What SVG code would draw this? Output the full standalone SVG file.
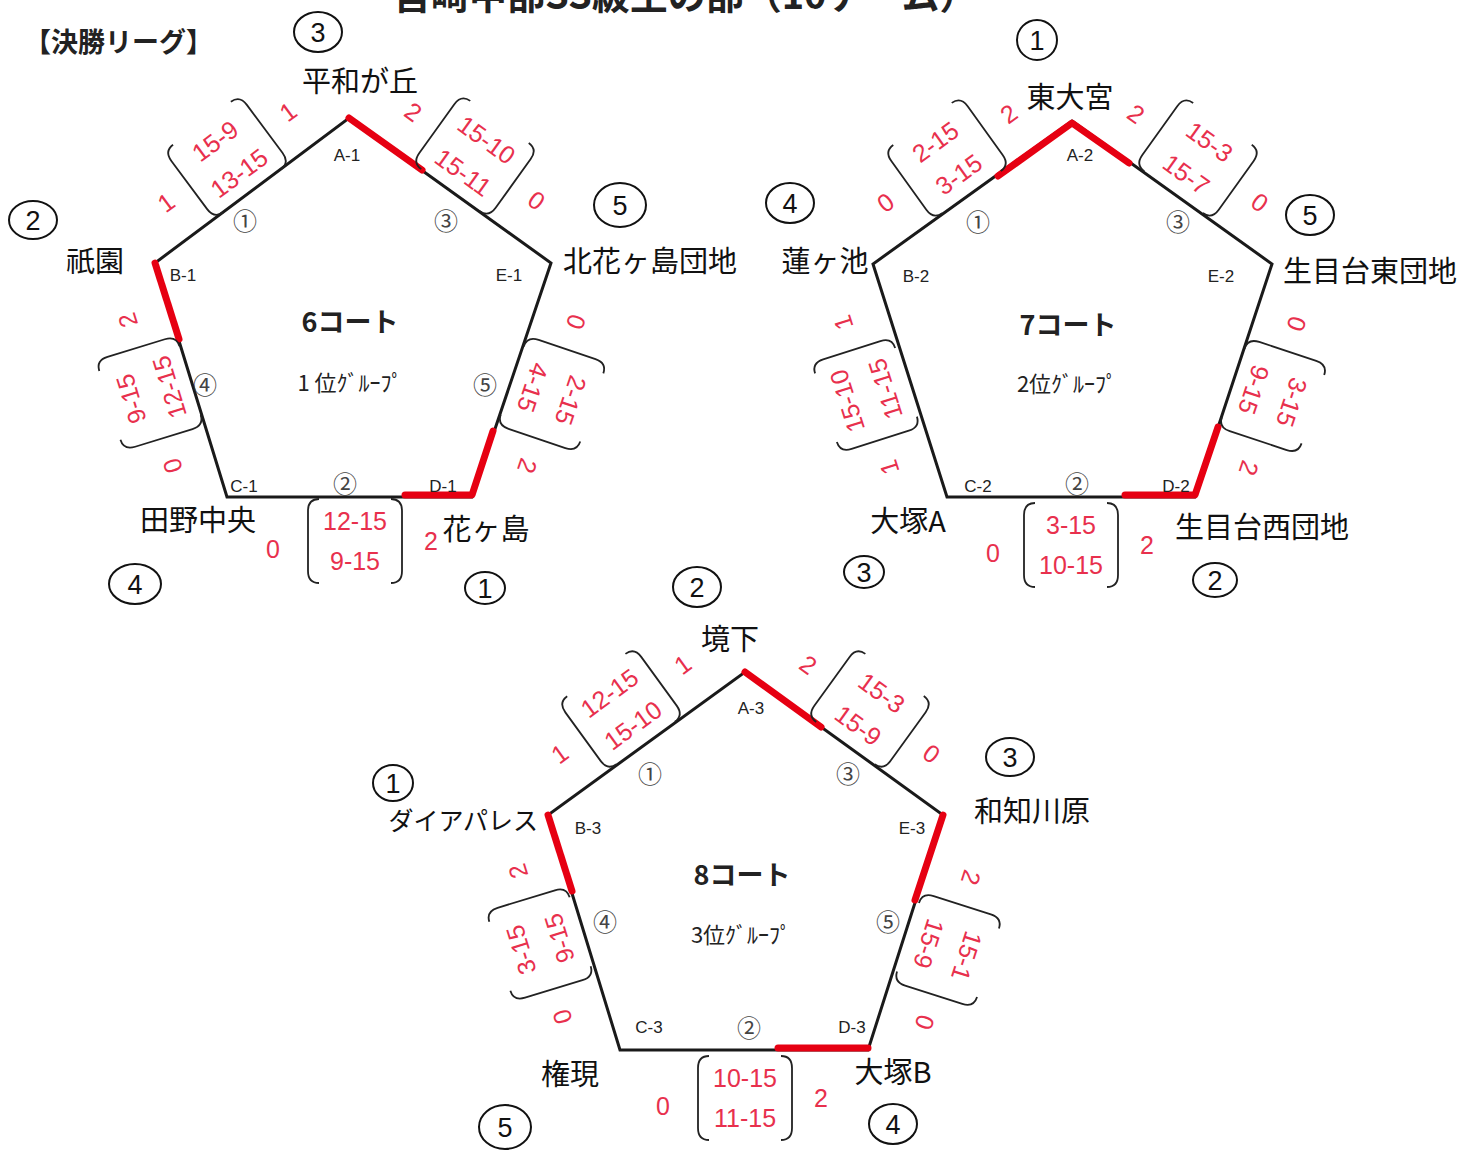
<svg xmlns="http://www.w3.org/2000/svg" width="1481" height="1154" viewBox="0 0 1481 1154">
<style>
.pent{fill:none;stroke:#1a1a1a;stroke-width:3;stroke-linejoin:miter}
.hl{fill:none;stroke:#e60012;stroke-width:7;stroke-linecap:round;stroke-linejoin:round}
.vl{font-family:"Liberation Sans",Arial,sans-serif;font-size:17px;fill:#222;text-anchor:middle}
.cn{font-family:"Noto Sans CJK JP","DejaVu Sans",sans-serif;font-size:24px;fill:#444;text-anchor:middle}
.ct{font-family:"Noto Sans CJK JP",sans-serif;font-size:27px;font-weight:700;fill:#222;text-anchor:middle}
.gp{font-family:"Noto Sans CJK JP",sans-serif;font-size:22px;fill:#222;text-anchor:middle}
.nm{font-family:"Noto Sans CJK JP",sans-serif;font-size:29px;fill:#111;text-anchor:middle}
.rk{fill:none;stroke:#111;stroke-width:2}
.rn{font-family:"Liberation Sans",sans-serif;font-size:27px;fill:#111;text-anchor:middle}
.sc{font-family:"Liberation Sans",Arial,sans-serif;font-size:25px;fill:#e8304d;text-anchor:middle}
.br{fill:none;stroke:#222;stroke-width:1.8}
.hd{font-family:"Noto Sans CJK JP",sans-serif;font-size:27px;font-weight:700;fill:#222}
</style>
<rect width="1481" height="1154" fill="#fff"/>

<text class="hd" x="393" y="9" style="font-size:38px">宮崎中部SS級生の部（10チーム）</text>
<text class="hd" x="24" y="52">【決勝リーグ】</text>

<!-- Court 6 -->
<g id="court6">
  <polygon class="pent" points="349,118 551,263 472,497 227,497 155,263"/>
  <polyline class="hl" points="349,118 422,170"/>
  <polyline class="hl" points="155,263 179,339"/>
  <polyline class="hl" points="405,495 472,495 493,431"/>
  <text class="vl" x="347" y="161">A-1</text>
  <text class="vl" x="183" y="281">B-1</text>
  <text class="vl" x="509" y="281">E-1</text>
  <text class="vl" x="244" y="492">C-1</text>
  <text class="vl" x="443" y="492">D-1</text>
  <text class="cn" x="245" y="230">①</text>
  <text class="cn" x="446" y="230">③</text>
  <text class="cn" x="205" y="394">④</text>
  <text class="cn" x="485" y="394">⑤</text>
  <text class="cn" x="345" y="493">②</text>
  <text class="ct" x="350" y="332">6コート</text>
  <text class="gp" x="350" y="391">1 位ｸﾞﾙｰﾌﾟ</text>
</g>

<!-- Court 7 -->
<g id="court7">
  <polygon class="pent" points="1072,121 1272,264 1195,497 947,497 873,264"/>
  <polyline class="hl" points="998,176 1072,123 1129,163"/>
  <polyline class="hl" points="1125,495 1195,495 1218,427"/>
  <text class="vl" x="1080" y="161">A-2</text>
  <text class="vl" x="916" y="282">B-2</text>
  <text class="vl" x="1221" y="282">E-2</text>
  <text class="vl" x="978" y="492">C-2</text>
  <text class="vl" x="1176" y="492">D-2</text>
  <text class="cn" x="978" y="231">①</text>
  <text class="cn" x="1178" y="231">③</text>
  <text class="cn" x="1077" y="493">②</text>
  <text class="ct" x="1068" y="335">7コート</text>
  <text class="gp" x="1067" y="392">2位ｸﾞﾙｰﾌﾟ</text>
</g>

<!-- Court 8 -->
<g id="court8">
  <polygon class="pent" points="745,672 943,815 868,1050 620,1050 548,815"/>
  <polyline class="hl" points="745,672 821,727"/>
  <polyline class="hl" points="548,815 572,891"/>
  <polyline class="hl" points="943,815 915,900"/>
  <polyline class="hl" points="778,1048 868,1048"/>
  <text class="vl" x="751" y="714">A-3</text>
  <text class="vl" x="588" y="834">B-3</text>
  <text class="vl" x="912" y="834">E-3</text>
  <text class="vl" x="649" y="1033">C-3</text>
  <text class="vl" x="852" y="1033">D-3</text>
  <text class="cn" x="650" y="783">①</text>
  <text class="cn" x="848" y="783">③</text>
  <text class="cn" x="605" y="931">④</text>
  <text class="cn" x="888" y="931">⑤</text>
  <text class="cn" x="749" y="1037">②</text>
  <text class="ct" x="742" y="885">8コート</text>
  <text class="gp" x="741" y="943">3位ｸﾞﾙｰﾌﾟ</text>
</g>

<!-- Teams -->
<g id="team-heiwagaoka"><ellipse class="rk" cx="318" cy="32" rx="24" ry="20"/><text class="rn" x="318" y="42">3</text><text class="nm" x="360" y="92">平和が丘</text></g>
<g id="team-gion"><ellipse class="rk" cx="33" cy="220" rx="24" ry="19"/><text class="rn" x="33" y="230">2</text><text class="nm" x="95" y="272">祇園</text></g>
<g id="team-kitahanagashima"><ellipse class="rk" cx="620" cy="205" rx="26" ry="22"/><text class="rn" x="620" y="215">5</text><text class="nm" x="650" y="272">北花ヶ島団地</text></g>
<g id="team-tanochuo"><ellipse class="rk" cx="135" cy="584" rx="26" ry="20"/><text class="rn" x="135" y="594">4</text><text class="nm" x="198" y="531">田野中央</text></g>
<g id="team-hanagashima"><ellipse class="rk" cx="485" cy="588" rx="20" ry="16"/><text class="rn" x="485" y="598">1</text><text class="nm" x="486" y="540">花ヶ島</text></g>

<g id="team-higashiomiya"><ellipse class="rk" cx="1037" cy="40" rx="20" ry="20"/><text class="rn" x="1037" y="50">1</text><text class="nm" x="1070" y="108">東大宮</text></g>
<g id="team-hasugaike"><ellipse class="rk" cx="790" cy="203" rx="24" ry="20"/><text class="rn" x="790" y="213">4</text><text class="nm" x="825" y="272">蓮ヶ池</text></g>
<g id="team-ikimedaihigashi"><ellipse class="rk" cx="1310" cy="215" rx="24" ry="20"/><text class="rn" x="1310" y="225">5</text><text class="nm" x="1370" y="282">生目台東団地</text></g>
<g id="team-otsukaA"><ellipse class="rk" cx="864" cy="572" rx="20" ry="16"/><text class="rn" x="864" y="582">3</text><text class="nm" x="908" y="532">大塚A</text></g>
<g id="team-ikimedainishi"><ellipse class="rk" cx="1215" cy="580" rx="22" ry="17"/><text class="rn" x="1215" y="590">2</text><text class="nm" x="1262" y="538">生目台西団地</text></g>

<g id="team-sakaishita"><ellipse class="rk" cx="697" cy="587" rx="24" ry="20"/><text class="rn" x="697" y="597">2</text><text class="nm" x="730" y="650">境下</text></g>
<g id="team-diapalace"><ellipse class="rk" cx="393" cy="783" rx="20" ry="18"/><text class="rn" x="393" y="793">1</text><text class="nm" x="538" y="830" style="text-anchor:end;font-size:25px">ダイアパレス</text></g>
<g id="team-wachigawara"><ellipse class="rk" cx="1010" cy="757" rx="24" ry="19"/><text class="rn" x="1010" y="767">3</text><text class="nm" x="1032" y="822">和知川原</text></g>
<g id="team-gongen"><ellipse class="rk" cx="505" cy="1127" rx="26" ry="22"/><text class="rn" x="505" y="1137">5</text><text class="nm" x="570" y="1085">権現</text></g>
<g id="team-otsukaB"><ellipse class="rk" cx="893" cy="1124" rx="24" ry="20"/><text class="rn" x="893" y="1134">4</text><text class="nm" x="893" y="1083">大塚B</text></g>

<!-- Score annotations -->
<defs>
  <g id="brk">
    <path class="br" d="M-36,-42 Q-47,-42 -47,-30 L-47,30 Q-47,42 -36,42"/>
    <path class="br" d="M36,-42 Q47,-42 47,-30 L47,30 Q47,42 36,42"/>
  </g>
</defs>
<g id="scores">
  <!-- Court 6 -->
  <g transform="translate(227,157) rotate(-36.6)"><use href="#brk"/><text class="sc" x="0" y="-11">15-9</text><text class="sc" x="0" y="29">13-15</text><text class="sc" x="-76" y="9">1</text><text class="sc" x="76" y="9">1</text></g>
  <g transform="translate(475,156) rotate(35.7)"><use href="#brk"/><text class="sc" x="0" y="-11">15-10</text><text class="sc" x="0" y="29">15-11</text><text class="sc" x="-76" y="9">2</text><text class="sc" x="76" y="9">0</text></g>
  <g transform="translate(150,393) rotate(-107.1)"><use href="#brk"/><text class="sc" x="0" y="-11">9-15</text><text class="sc" x="0" y="29">12-15</text><text class="sc" x="-76" y="9">0</text><text class="sc" x="76" y="9">2</text></g>
  <g transform="translate(552,394) rotate(108.7)"><use href="#brk"/><text class="sc" x="0" y="-11">2-15</text><text class="sc" x="0" y="29">4-15</text><text class="sc" x="-76" y="9">0</text><text class="sc" x="76" y="9">2</text></g>
  <g transform="translate(355,541)"><use href="#brk"/><text class="sc" x="0" y="-11">12-15</text><text class="sc" x="0" y="29">9-15</text><text class="sc" x="-82" y="17">0</text><text class="sc" x="76" y="9">2</text></g>
  <!-- Court 7 -->
  <g transform="translate(947,158) rotate(-35.7)"><use href="#brk"/><text class="sc" x="0" y="-11">2-15</text><text class="sc" x="0" y="29">3-15</text><text class="sc" x="-76" y="9">0</text><text class="sc" x="76" y="9">2</text></g>
  <g transform="translate(1198,158) rotate(35.6)"><use href="#brk"/><text class="sc" x="0" y="-11">15-3</text><text class="sc" x="0" y="29">15-7</text><text class="sc" x="-76" y="9">2</text><text class="sc" x="76" y="9">0</text></g>
  <g transform="translate(866,395) rotate(-107.6)"><use href="#brk"/><text class="sc" x="0" y="-11">15-10</text><text class="sc" x="0" y="29">11-15</text><text class="sc" x="-76" y="9">1</text><text class="sc" x="76" y="9">1</text></g>
  <g transform="translate(1273,396) rotate(108.3)"><use href="#brk"/><text class="sc" x="0" y="-11">3-15</text><text class="sc" x="0" y="29">9-15</text><text class="sc" x="-76" y="9">0</text><text class="sc" x="76" y="9">2</text></g>
  <g transform="translate(1071,545)"><use href="#brk"/><text class="sc" x="0" y="-11">3-15</text><text class="sc" x="0" y="29">10-15</text><text class="sc" x="-78" y="17">0</text><text class="sc" x="76" y="9">2</text></g>
  <!-- Court 8 -->
  <g transform="translate(621,709) rotate(-36)"><use href="#brk"/><text class="sc" x="0" y="-11">12-15</text><text class="sc" x="0" y="29">15-10</text><text class="sc" x="-76" y="9">1</text><text class="sc" x="76" y="9">1</text></g>
  <g transform="translate(870,709) rotate(35.8)"><use href="#brk"/><text class="sc" x="0" y="-11">15-3</text><text class="sc" x="0" y="29">15-9</text><text class="sc" x="-76" y="9">2</text><text class="sc" x="76" y="9">0</text></g>
  <g transform="translate(540,944) rotate(-107)"><use href="#brk"/><text class="sc" x="0" y="-11">3-15</text><text class="sc" x="0" y="29">9-15</text><text class="sc" x="-76" y="9">0</text><text class="sc" x="76" y="9">2</text></g>
  <g transform="translate(948,950) rotate(107.7)"><use href="#brk"/><text class="sc" x="0" y="-11">15-1</text><text class="sc" x="0" y="29">15-9</text><text class="sc" x="-76" y="9">2</text><text class="sc" x="76" y="9">0</text></g>
  <g transform="translate(745,1098)"><use href="#brk"/><text class="sc" x="0" y="-11">10-15</text><text class="sc" x="0" y="29">11-15</text><text class="sc" x="-82" y="17">0</text><text class="sc" x="76" y="9">2</text></g>
</g>
</svg>
